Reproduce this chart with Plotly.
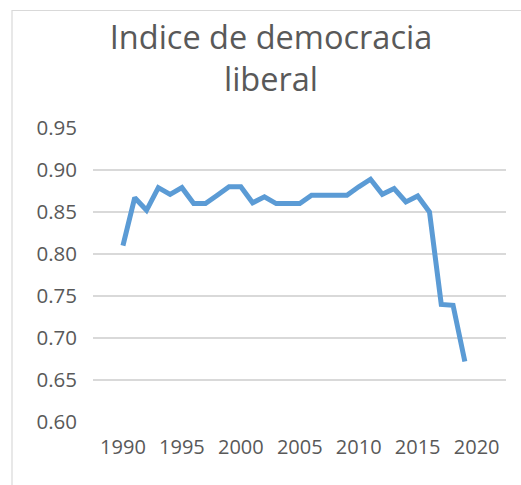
import plotly.graph_objects as go

years = list(range(1990, 2020))
values = [0.81, 0.867, 0.852, 0.879, 0.871, 0.879, 0.86, 0.86, 0.87, 0.88,
          0.88, 0.861, 0.868, 0.86, 0.86, 0.86, 0.87, 0.87, 0.87, 0.87,
          0.88, 0.889, 0.871, 0.878, 0.862, 0.869, 0.85, 0.74, 0.739, 0.672]
x_ticks = [1990, 1995, 2000, 2005, 2010, 2015, 2020]
y_ticks = [0.60, 0.65, 0.70, 0.75, 0.80, 0.85, 0.90, 0.95]

FONT = "Open Sans"
GRAY = "#595959"

fig = go.Figure(go.Scatter(
    x=years, y=values, mode="lines",
    line=dict(color="#5B9BD5", width=5, shape="linear"),
    hoverinfo="skip",
))

fig.update_layout(
    template="none",
    width=521, height=485,
    margin=dict(l=93, r=15, t=128, b=63, pad=0, autoexpand=False),
    paper_bgcolor="white", plot_bgcolor="white",
    showlegend=False,
    title=dict(
        text="Indice de democracia<br>liberal",
        font=dict(family=FONT, size=32.5, color=GRAY),
        x=(271 / 521), xanchor="center",
        y=1 - 49 / 485, yanchor="bottom",
        yref="container", xref="container",
    ),
    font=dict(family=FONT, color=GRAY, size=20),
    xaxis=dict(
        range=[1987.46, 2022.49],
        tickvals=x_ticks,
        ticktext=[str(v) for v in x_ticks],
        showgrid=False, zeroline=False, showline=False,
        ticks="", ticklabelstandoff=11, automargin=False,
        tickfont=dict(family=FONT, size=20, color=GRAY),
    ),
    yaxis=dict(
        range=[0.60, 0.95],
        tickvals=y_ticks,
        tickformat=".2f",
        showgrid=True, gridcolor="#D9D9D9", gridwidth=2,
        zeroline=False, showline=False,
        ticks="", ticklabelstandoff=15, automargin=False,
        tickfont=dict(family=FONT, size=20.5, color=GRAY),
    ),
    shapes=[dict(
        type="rect", xref="paper", yref="paper",
        x0=(12 - 93) / 413, x1=(540 - 93) / 413,
        y0=(422 - 500) / 294, y1=(422 - 10.5) / 294,
        line=dict(color="#D9D9D9", width=1.2),
        fillcolor="rgba(0,0,0,0)", layer="below",
    )],
)

fig.write_html(
    "out.html",
    config={"displayModeBar": False},
    post_script="document.body.style.margin='0';document.body.style.padding='0';",
)
